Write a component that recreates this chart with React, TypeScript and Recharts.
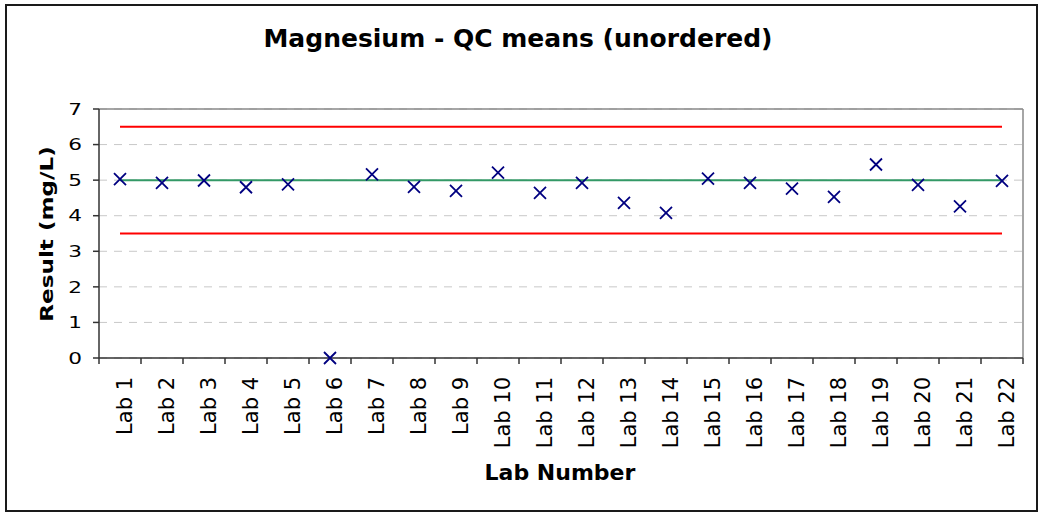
import {
  ComposedChart,
  Line,
  Scatter,
  XAxis,
  YAxis,
  CartesianGrid,
  ReferenceLine,
} from "recharts";

const LABS = [
  "Lab 1", "Lab 2", "Lab 3", "Lab 4", "Lab 5", "Lab 6", "Lab 7", "Lab 8",
  "Lab 9", "Lab 10", "Lab 11", "Lab 12", "Lab 13", "Lab 14", "Lab 15",
  "Lab 16", "Lab 17", "Lab 18", "Lab 19", "Lab 20", "Lab 21", "Lab 22",
];
const RESULTS = [
  5.03, 4.92, 4.99, 4.8, 4.88, 0, 5.16, 4.81, 4.7, 5.21, 4.64,
  4.92, 4.36, 4.08, 5.04, 4.92, 4.76, 4.53, 5.44, 4.87, 4.26, 4.98,
];
const TARGET = 5;
const UPPER_LIMIT = 6.5;
const LOWER_LIMIT = 3.5;
const Y_TICKS = [0, 1, 2, 3, 4, 5, 6, 7];
const X_TICKS = LABS.map((_, i) => i + 1);

const FONT = "'DejaVu Sans', Verdana, sans-serif";
const MARKER_COLOR = "#000080";
const LIMIT_COLOR = "#ff0000";
const TARGET_COLOR = "#339966";

const WIDTH = 1039;
const HEIGHT = 513;
const PLOT_LEFT = 99;
const PLOT_RIGHT = 1023;
const BAND = (PLOT_RIGHT - PLOT_LEFT) / LABS.length;

const rows = LABS.map((lab, i) => ({
  idx: i + 1,
  lab,
  result: RESULTS[i],
  target: TARGET,
  upper: UPPER_LIMIT,
  lower: LOWER_LIMIT,
}));

// cross marker, like the old spreadsheet "x" point style
function Cross(props: any) {
  const { cx, cy } = props;
  if (cx == null || cy == null) return null;
  const s = 6;
  return (
    <path
      d={`M${cx - s},${cy - s}L${cx + s},${cy + s}M${cx + s},${cy - s}L${cx - s},${cy + s}`}
      stroke={MARKER_COLOR}
      strokeWidth={1.8}
      fill="none"
    />
  );
}

// category label rotated upward, with tick marks on the band edges
function LabTick(props: any) {
  const { x, y, payload } = props;
  const idx = payload.value as number;
  return (
    <g>
      <line x1={x - BAND / 2} y1={y} x2={x - BAND / 2} y2={y + 6} stroke="#333" strokeWidth={1.5} />
      {idx === LABS.length && (
        <line x1={x + BAND / 2} y1={y} x2={x + BAND / 2} y2={y + 6} stroke="#333" strokeWidth={1.5} />
      )}
      <text
        transform={`translate(${x + 11.5},${y + 19}) rotate(-90)`}
        textAnchor="end"
        fontFamily={FONT}
        fontSize={21}
        fill="#000"
      >
        {LABS[idx - 1]}
      </text>
    </g>
  );
}

function ValueTick(props: any) {
  const { x, y, payload } = props;
  return (
    <text
      transform={`translate(${x},${y}) scale(1.35,1)`}
      dy="0.36em"
      textAnchor="end"
      fontFamily={FONT}
      fontSize={16}
      fill="#000"
    >
      {payload.value}
    </text>
  );
}

export default function App() {
  return (
    <div style={{ position: "absolute", left: 0, top: 0, width: WIDTH, height: HEIGHT, background: "#fff" }}>
      <ComposedChart
        width={WIDTH}
        height={HEIGHT}
        data={rows}
        margin={{ top: 109, right: WIDTH - PLOT_RIGHT, bottom: 95, left: PLOT_LEFT - 60 }}
      >
        <CartesianGrid vertical={false} strokeDasharray="8 7" stroke="#c8c8c8" />
        <XAxis
          type="number"
          dataKey="idx"
          domain={[0.5, LABS.length + 0.5]}
          ticks={X_TICKS}
          interval={0}
          height={60}
          tickLine={false}
          tickSize={0}
          tickMargin={0}
          axisLine={{ stroke: "#333", strokeWidth: 1.5 }}
          tick={<LabTick />}
        />
        <YAxis
          type="number"
          domain={[0, 7]}
          ticks={Y_TICKS}
          interval={0}
          width={60}
          tickSize={6}
          tickMargin={11}
          tickLine={{ stroke: "#333", strokeWidth: 1.5 }}
          axisLine={{ stroke: "#333", strokeWidth: 1.5 }}
          tick={<ValueTick />}
        />
        <ReferenceLine y={7} stroke="#888" strokeWidth={1.5} />
        <ReferenceLine x={LABS.length + 0.5} stroke="#888" strokeWidth={1.5} />
        <Line dataKey="upper" stroke={LIMIT_COLOR} strokeWidth={2} dot={false} isAnimationActive={false} />
        <Line dataKey="lower" stroke={LIMIT_COLOR} strokeWidth={2} dot={false} isAnimationActive={false} />
        <Line dataKey="target" stroke={TARGET_COLOR} strokeWidth={2} dot={false} isAnimationActive={false} />
        <Scatter dataKey="result" shape={<Cross />} isAnimationActive={false} />
      </ComposedChart>
      <svg
        width={WIDTH}
        height={HEIGHT}
        style={{ position: "absolute", left: 0, top: 0, pointerEvents: "none" }}
      >
        <rect x={6} y={5} width={1031} height={506} fill="none" stroke="#1a1a1a" strokeWidth={2} />
        <text x={518} y={47} textAnchor="middle" fontFamily={FONT} fontSize={25} fontWeight="bold" fill="#000">
          Magnesium - QC means (unordered)
        </text>
        <text
          transform="translate(53,234) rotate(-90) scale(1.1,0.85)"
          textAnchor="middle"
          fontFamily={FONT}
          fontSize={21}
          fontWeight="bold"
          fill="#000"
        >
          Result (mg/L)
        </text>
        <text x={560} y={480} textAnchor="middle" fontFamily={FONT} fontSize={22} fontWeight="bold" fill="#000">
          Lab Number
        </text>
      </svg>
    </div>
  );
}
